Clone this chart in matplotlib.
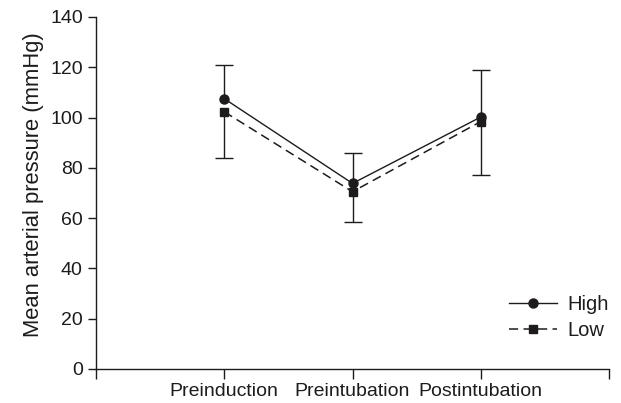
import matplotlib
matplotlib.use('Agg')
import matplotlib.pyplot as plt

plt.rcParams['font.family'] = ['Liberation Sans', 'DejaVu Sans']

# Data
stages = ['Preinduction', 'Preintubation', 'Postintubation']
high_mean = [107.5, 73.8, 100.2]
high_upper = [121.0, 85.8, 119.0]   # top of the error bar
low_mean = [102.3, 70.5, 98.4]
low_lower = [84.0, 58.5, 77.2]      # bottom of the error bar

ink = '#1e1b1c'
xpos = [1, 2, 3]

fig = plt.figure(figsize=(6.21, 4.03), dpi=100)
ax = fig.add_axes([0.1546, 0.0844, 0.8261, 0.8735])

hi_err = [[0, 0, 0], [u - m for u, m in zip(high_upper, high_mean)]]
lo_err = [[m - l for m, l in zip(low_mean, low_lower)], [0, 0, 0]]

# error bars: upward for High, downward for Low
_, caps, _ = ax.errorbar(xpos, high_mean, yerr=hi_err, fmt='none', ecolor=ink,
                         elinewidth=1.0, capsize=6.5, capthick=1.0)
caps[0].set_visible(False)
_, caps, _ = ax.errorbar(xpos, low_mean, yerr=lo_err, fmt='none', ecolor=ink,
                         elinewidth=1.0, capsize=6.5, capthick=1.0)
caps[1].set_visible(False)

ax.plot(xpos, high_mean, color=ink, lw=1.0, marker='o', ms=6.5, label='High')
ax.plot(xpos, low_mean, color=ink, lw=1.1, ls=(0, (6, 3.5)), marker='s', ms=5.5,
        label='Low')

ax.set_xlim(0, 4)
ax.set_ylim(0, 140)
ax.set_xticks([0, 1, 2, 3, 4])
ax.set_xticklabels([''] + stages + [''])
ax.set_yticks(range(0, 141, 20))
ax.set_ylabel('Mean arterial pressure (mmHg)', fontsize=15.8, color=ink)
ax.yaxis.set_label_coords(-0.102, 0.524)
ax.tick_params(axis='both', labelsize=14, colors=ink, direction='out', length=6, width=1)
ax.tick_params(axis='x', length=7, pad=3)

for s in ['top', 'right']:
    ax.spines[s].set_visible(False)
for s in ['left', 'bottom']:
    ax.spines[s].set_color(ink)
    ax.spines[s].set_linewidth(1.0)

leg = ax.legend(loc='lower right', bbox_to_anchor=(1.015, 0.06), frameon=False, fontsize=14.5,
                handlelength=2.4, handletextpad=0.5, labelspacing=0.35, borderaxespad=0.0)
for t in leg.get_texts():
    t.set_color(ink)

fig.savefig('out.png', dpi=100)
